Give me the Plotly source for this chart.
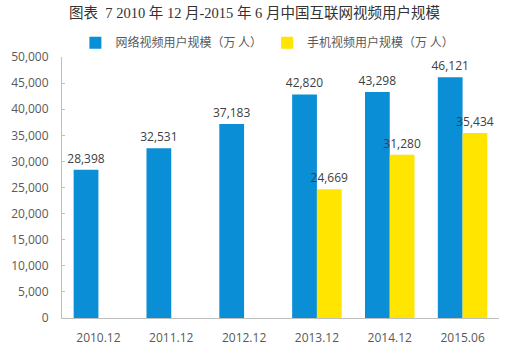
import plotly.graph_objects as go

categories = ["2010.12", "2011.12", "2012.12", "2013.12", "2014.12", "2015.06"]
internet_video = [28398, 32531, 37183, 42820, 43298, 46121]
mobile_video = [None, None, None, 24669, 31280, 35434]
y_ticks = [0, 5000, 10000, 15000, 20000, 25000, 30000, 35000, 40000, 45000, 50000]

title_text = "图表  7 2010 年 12 月-2015 年 6 月中国互联网视频用户规模"
name_internet = "网络视频用户规模（万 人）"
name_mobile = "手机视频用户规模（万 人）"

label_font = dict(family="Open Sans, Noto Sans CJK SC, sans-serif", size=12, color="#404040")

fig = go.Figure()
fig.add_trace(go.Bar(
    x=categories, y=internet_video, name=name_internet,
    marker=dict(color="#0A8FD6", line=dict(width=0)),
    text=[f"{v:,}" for v in internet_video], textposition="outside",
    textfont=label_font, cliponaxis=False, constraintext="none",
))
fig.add_trace(go.Bar(
    x=categories, y=mobile_video, name=name_mobile,
    marker=dict(color="#FFE500", line=dict(width=0)),
    text=[f"{v:,}" if v is not None else "" for v in mobile_video], textposition="outside",
    textfont=label_font, cliponaxis=False, constraintext="none",
))

fig.update_layout(
    width=509, height=350,
    margin=dict(l=62, r=10, t=57, b=32),
    paper_bgcolor="white", plot_bgcolor="white",
    barmode="group", bargap=0.32, bargroupgap=0,
    title=dict(text=title_text, x=0.5, xanchor="center", y=0.962, yanchor="middle",
               font=dict(family="Liberation Serif, Noto Sans CJK SC, serif", size=14.5, color="#333333")),
    legend=dict(orientation="h", x=0.47, xanchor="center", y=1.055, yanchor="middle",
                font=dict(family="Noto Sans CJK SC, sans-serif", size=12, color="#595959"),
                itemwidth=30, bgcolor="rgba(0,0,0,0)"),
    showlegend=True,
    font=dict(family="Open Sans, Noto Sans CJK SC, sans-serif", size=12, color="#595959"),
)
fig.update_xaxes(
    showline=True, linecolor="#BFBFBF", linewidth=1, ticks="", showgrid=False,
    ticklabelstandoff=9, automargin=False,
    tickfont=dict(family="Open Sans, sans-serif", size=12, color="#595959"),
)
fig.update_yaxes(
    range=[0, 50000], tickvals=y_ticks, tickformat=",", showgrid=False,
    showline=True, linecolor="#BFBFBF", linewidth=1, ticks="inside", ticklen=3, tickcolor="#BFBFBF",
    ticklabelstandoff=10, automargin=False,
    tickfont=dict(family="Open Sans, sans-serif", size=12, color="#595959"), zeroline=False,
)

fig.write_html("out.html")
